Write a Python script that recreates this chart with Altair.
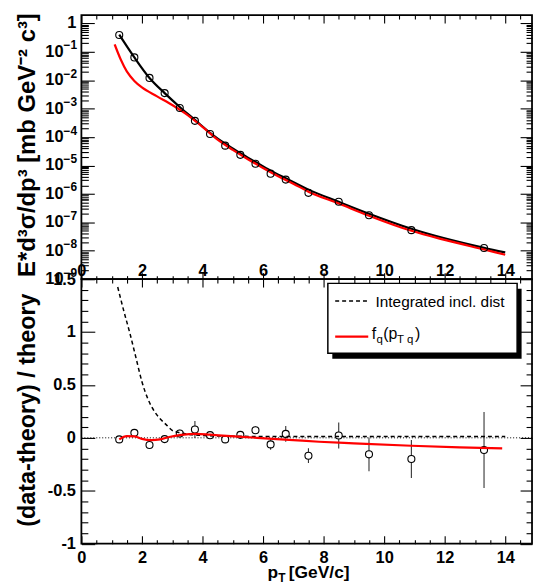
import altair as alt
import pandas as pd

# ---------------- data ----------------
pt_x = [1.25, 1.75, 2.25, 2.75, 3.25, 3.75, 4.25, 4.75, 5.25, 5.75, 6.25, 6.75, 7.5, 8.5, 9.5, 10.9, 13.3]
pt_y = [0.394, 0.0637, 0.0121, 3.53e-3, 1.06e-3, 3.73e-4, 1.28e-4, 5.0e-5, 2.37e-5, 1.15e-5,
        5.15e-6, 3.18e-6, 1.09e-6, 5.27e-7, 1.77e-7, 5.3e-8, 1.25e-8]
ratio_y = [-0.015, 0.047, -0.068, -0.012, 0.041, 0.079, 0.025, -0.015, 0.028, 0.072,
           -0.062, 0.037, -0.169, 0.022, -0.156, -0.2, -0.115]
ratio_err = [0.02, 0.02, 0.02, 0.02, 0.035, 0.08, 0.03, 0.03, 0.03, 0.035,
             0.05, 0.075, 0.07, 0.122, 0.16, 0.18, 0.36]

theory_x = [1.25, 1.75, 2.25, 2.75, 3.25, 3.75, 4.25, 4.75, 5.25, 5.75, 6.25, 6.75, 7.5, 8.5, 9.5, 10.9, 13.3, 14.0]
theory_y = [0.4036, 0.0637, 0.01208, 3.53e-3, 1.148e-3, 4.04e-4, 1.422e-4, 5.82e-5, 2.72e-5, 1.334e-5,
            6.61e-6, 3.55e-6, 1.413e-6, 5.25e-7, 2.0e-7, 5.89e-8, 1.26e-8, 8.7e-9]

fq_x = [1.1, 1.3, 1.5, 1.75, 2.0, 2.5, 3.0, 3.5, 4.0, 4.5, 5.0, 5.5, 6.0, 6.5, 7.0, 7.5, 8.5, 9.5, 10.9, 12.0, 13.3, 14.0]
fq_y = [0.182, 0.0537, 0.0205, 9.5e-3, 5.6e-3, 2.72e-3, 1.35e-3, 6.1e-4, 2.29e-4, 8.13e-5, 3.55e-5,
        1.66e-5, 8.13e-6, 4.17e-6, 2.29e-6, 1.2e-6, 4.57e-7, 1.7e-7, 5.01e-8, 2.4e-8, 1.1e-8, 7.24e-9]

incl_x = [1.2, 1.4, 1.6, 1.8, 2.0, 2.2, 2.4, 2.6, 2.8, 3.0, 3.25, 3.5, 4.0, 5.0, 7.0, 10.0, 14.0]
incl_r = [1.425, 1.20, 0.99, 0.76, 0.53, 0.365, 0.255, 0.18, 0.125, 0.07, 0.048, 0.035, 0.022, 0.015, 0.012, 0.012, 0.012]

fqr_x = [1.25, 1.5, 1.75, 2.0, 2.3, 2.6, 2.9, 3.3, 3.8, 4.25, 4.8, 5.8, 7.0, 7.85, 9.0, 10.9, 12.5, 13.9]
fqr_r = [-0.015, 0.016, 0.014, -0.01, -0.022, -0.015, 0.008, 0.028, 0.038, 0.03, 0.018, 0.0,
         -0.022, -0.037, -0.052, -0.075, -0.09, -0.1]

zero_line = [0.0]

# tick positions / labels
x_major = [0, 2, 4, 6, 8, 10, 12, 14]
x_minor = [0.5, 1, 1.5, 2.5, 3, 3.5, 4.5, 5, 5.5, 6.5, 7, 7.5, 8.5, 9, 9.5, 10.5, 11, 11.5, 12.5, 13, 13.5, 14.5]
logy_major = [1e-9, 1e-8, 1e-7, 1e-6, 1e-5, 1e-4, 1e-3, 1e-2, 1e-1, 1.0]
logy_minor = [k * 10.0 ** e for e in range(-9, 0) for k in range(2, 10)]
ylab_vals = [1e-1, 1e-2, 1e-3, 1e-4, 1e-5, 1e-6, 1e-7, 1e-8, 1e-9]
ylab_exps = ["\u22121", "\u22122", "\u22123", "\u22124", "\u22125", "\u22126", "\u22127", "\u22128", "\u22129"]
ry_major = [-1, -0.5, 0, 0.5, 1, 1.5]
ry_minor = [round(v / 10, 1) for v in range(-10, 16) if v % 5 != 0]

# ---------------- layout constants ----------------
W = 454
H1 = 266
H2 = 266.5
F = "Liberation Sans, Arial, sans-serif"
LBL = 16.5   # tick label size

xs = alt.Scale(domain=[0, 14.885], nice=False, zero=False)
ys_t = alt.Scale(type="log", domain=[1e-9, 1.97], nice=False)
ys_b = alt.Scale(domain=[-1, 1.5], nice=False, zero=False)

one = alt.Data(values=[{}])


def tick_ax(orient, values, size, offset):
    return alt.Axis(orient=orient, values=values, tickSize=size, offset=offset, labels=False,
                    domain=False, grid=False, title=None, ticks=True, tickColor="black", tickWidth=1.1)


def carrier(df, yfield, yscale, xax, yax):
    return alt.Chart(df).mark_point(opacity=0).encode(
        x=alt.X("x:Q", scale=xs, axis=xax),
        y=alt.Y(f"{yfield}:Q", scale=yscale, axis=yax),
    )


def txt(text, x, y, size, bold=False, **kw):
    return alt.Chart(one).mark_text(text=text, font=F, fontSize=size, color="black",
                                    fontWeight="bold" if bold else "normal", **kw).encode(
        x=alt.value(x), y=alt.value(y))


# ---------------- top panel ----------------
df_pts = pd.DataFrame({"x": pt_x, "y": pt_y})
df_th = pd.DataFrame({"x": theory_x, "y": theory_y})
df_fq = pd.DataFrame({"x": fq_x, "y": fq_y})
df_ylab = pd.DataFrame({"v": ylab_vals, "e": ylab_exps})
df_one = pd.DataFrame({"v": [1.0]})

xa_lab = alt.Axis(orient="top", offset=-H1, values=x_major, ticks=False, tickSize=0, labelPadding=1,
                  labelFont=F, labelFontSize=LBL, labelFontWeight="bold", labelColor="black",
                  labelExpr="'' + datum.value", labelFlush=False, labelOverlap=False,
                  domain=False, grid=False, title=None)

top_axes = [
    (xa_lab, tick_ax("right", logy_major, 13, -W)),
    (tick_ax("top", x_major, 6.5, -H1), tick_ax("right", logy_minor, 7, -W)),
    (tick_ax("top", x_minor, 3.5, -H1), tick_ax("left", logy_major, 12, -W)),
    (tick_ax("bottom", x_major, 8, -H1), tick_ax("left", logy_minor, 6, -W)),
    (tick_ax("bottom", x_minor, 4, -H1), None),
]
top_layers = [carrier(df_pts, "y", ys_t, a, b) for a, b in top_axes]

top_layers += [
    alt.Chart(df_th).mark_line(color="black", strokeWidth=2.2, interpolate="monotone").encode(
        x=alt.X("x:Q", scale=xs, axis=None), y=alt.Y("y:Q", scale=ys_t, axis=None)),
    alt.Chart(df_fq).mark_line(color="#ff0000", strokeWidth=2.2, interpolate="monotone").encode(
        x=alt.X("x:Q", scale=xs, axis=None), y=alt.Y("y:Q", scale=ys_t, axis=None)),
    alt.Chart(df_pts).mark_point(shape="circle", filled=False, size=50, stroke="black",
                                 strokeWidth=1.1, opacity=1).encode(
        x=alt.X("x:Q", scale=xs, axis=None), y=alt.Y("y:Q", scale=ys_t, axis=None)),
    # y tick labels 10^-n
    alt.Chart(df_ylab).mark_text(text="10", align="right", baseline="middle", font=F, fontSize=LBL,
                                 fontWeight="bold", color="black").encode(
        x=alt.value(-18), y=alt.Y("v:Q", scale=ys_t, axis=None)),
    alt.Chart(df_ylab).mark_text(align="left", baseline="middle", dy=-6.5, font=F, fontSize=12,
                                 fontWeight="bold", color="black").encode(
        x=alt.value(-18), y=alt.Y("v:Q", scale=ys_t, axis=None), text="e:N"),
    alt.Chart(df_one).mark_text(text="1", align="right", baseline="middle", font=F, fontSize=LBL,
                                fontWeight="bold", color="black").encode(
        x=alt.value(-5), y=alt.Y("v:Q", scale=ys_t, axis=None)),
    # y title
    txt("E*d\u00b3\u03c3/dp\u00b3  [mb GeV\u207b\u00b2 c\u00b3]", -54, 131, 24, bold=True,
        angle=270, align="center", baseline="middle"),
]

top = alt.layer(*top_layers).resolve_axis(x="independent", y="independent").properties(width=W, height=H1)

# ---------------- bottom panel ----------------
df_r = pd.DataFrame({"x": pt_x, "r": ratio_y, "e": ratio_err})
df_incl = pd.DataFrame({"x": incl_x, "r": incl_r})
df_fqr = pd.DataFrame({"x": fqr_x, "r": fqr_r})
df_zero = pd.DataFrame({"z": zero_line})

xb_lab = alt.Axis(orient="bottom", values=x_major, ticks=False, tickSize=0, labelPadding=6,
                  labelFont=F, labelFontSize=LBL, labelFontWeight="bold", labelColor="black",
                  labelExpr="'' + datum.value", labelFlush=False, labelOverlap=False,
                  domain=False, grid=False, title=None)
yb_lab = alt.Axis(orient="left", values=ry_major, ticks=False, tickSize=0, labelPadding=6,
                  labelFont=F, labelFontSize=LBL, labelFontWeight="bold", labelColor="black",
                  labelExpr="'' + datum.value", labelFlush=False, labelOverlap=False,
                  domain=False, grid=False, title=None)

bot_axes = [
    (xb_lab, yb_lab),
    (tick_ax("top", x_major, 8, -H2), tick_ax("right", ry_major, 13.5, -W)),
    (tick_ax("top", x_minor, 4, -H2), tick_ax("right", ry_minor, 6.5, -W)),
    (tick_ax("bottom", x_major, 8, -H2), tick_ax("left", ry_major, 12, -W)),
    (tick_ax("bottom", x_minor, 4, -H2), tick_ax("left", ry_minor, 6, -W)),
]
bot_layers = [carrier(df_r, "r", ys_b, a, b) for a, b in bot_axes]

bot_layers += [
    # invisible anchor fixing the page frame
    alt.Chart(one).mark_rect(opacity=0).encode(
        x=alt.value(-81), x2=alt.value(453), y=alt.value(-278), y2=alt.value(308)),
    alt.Chart(df_zero).mark_rule(color="black", strokeWidth=1, strokeDash=[1, 2]).encode(
        y=alt.Y("z:Q", scale=ys_b, axis=None)),
    alt.Chart(df_r).transform_calculate(lo="datum.r - datum.e", hi="datum.r + datum.e").mark_rule(
        color="#333333", strokeWidth=1.1).encode(
        x=alt.X("x:Q", scale=xs, axis=None), y=alt.Y("lo:Q", scale=ys_b, axis=None), y2="hi:Q"),
    alt.Chart(df_r).mark_point(shape="circle", filled=True, fill="white", stroke="black", size=50,
                               strokeWidth=1.1, opacity=1, fillOpacity=1).encode(
        x=alt.X("x:Q", scale=xs, axis=None), y=alt.Y("r:Q", scale=ys_b, axis=None)),
    alt.Chart(df_incl).mark_line(color="black", strokeWidth=1.5, strokeDash=[4, 3],
                                 interpolate="monotone").encode(
        x=alt.X("x:Q", scale=xs, axis=None), y=alt.Y("r:Q", scale=ys_b, axis=None)),
    alt.Chart(df_fqr).mark_line(color="#ff0000", strokeWidth=2.2, interpolate="monotone").encode(
        x=alt.X("x:Q", scale=xs, axis=None), y=alt.Y("r:Q", scale=ys_b, axis=None)),
    # legend box with shadow
    alt.Chart(one).mark_rect(color="black").encode(
        x=alt.value(252.8), x2=alt.value(443.5), y=alt.value(9.8), y2=alt.value(80.2)),
    alt.Chart(one).mark_rect(fill="white", stroke="black", strokeWidth=1.5).encode(
        x=alt.value(248.3), x2=alt.value(439), y=alt.value(4.3), y2=alt.value(74.7)),
    alt.Chart(one).mark_rule(color="black", strokeWidth=1.5, strokeDash=[4, 3]).encode(
        x=alt.value(255.7), x2=alt.value(289), y=alt.value(22)),
    alt.Chart(one).mark_rule(color="#ff0000", strokeWidth=2.2).encode(
        x=alt.value(255.7), x2=alt.value(289), y=alt.value(58)),
    txt("Integrated incl. dist", 296.3, 28.3, 15.5, align="left", baseline="alphabetic"),
    txt("f", 292.5, 60.3, 16, align="left", baseline="alphabetic"),
    txt("q", 297.3, 64.5, 11.5, align="left", baseline="alphabetic"),
    txt("(p", 304, 60.3, 16, align="left", baseline="alphabetic"),
    txt("T q", 318, 64.5, 11.5, align="left", baseline="alphabetic"),
    txt(")", 336, 60.3, 16, align="left", baseline="alphabetic"),
    # x title p_T [GeV/c]
    txt("p", 187.5, H2 + 34.5, 17.5, bold=True, align="left", baseline="alphabetic"),
    txt("T", 198.3, H2 + 38.5, 12, bold=True, align="left", baseline="alphabetic"),
    txt("[GeV/c]", 209, H2 + 34.5, 17.5, bold=True, align="left", baseline="alphabetic"),
    # y title
    txt("(data-theory) / theory", -53.5, 132, 23.5, bold=True, angle=270, align="center", baseline="middle"),
]

bottom = alt.layer(*bot_layers).resolve_axis(x="independent", y="independent").properties(width=W, height=H2)

chart = alt.vconcat(top, bottom, spacing=0, bounds="flush").properties(padding=0).configure_view(
    stroke="black", strokeWidth=1.8
).configure_axis(grid=False)

chart.save("out.html", embed_options={"renderer": "svg", "actions": False})
